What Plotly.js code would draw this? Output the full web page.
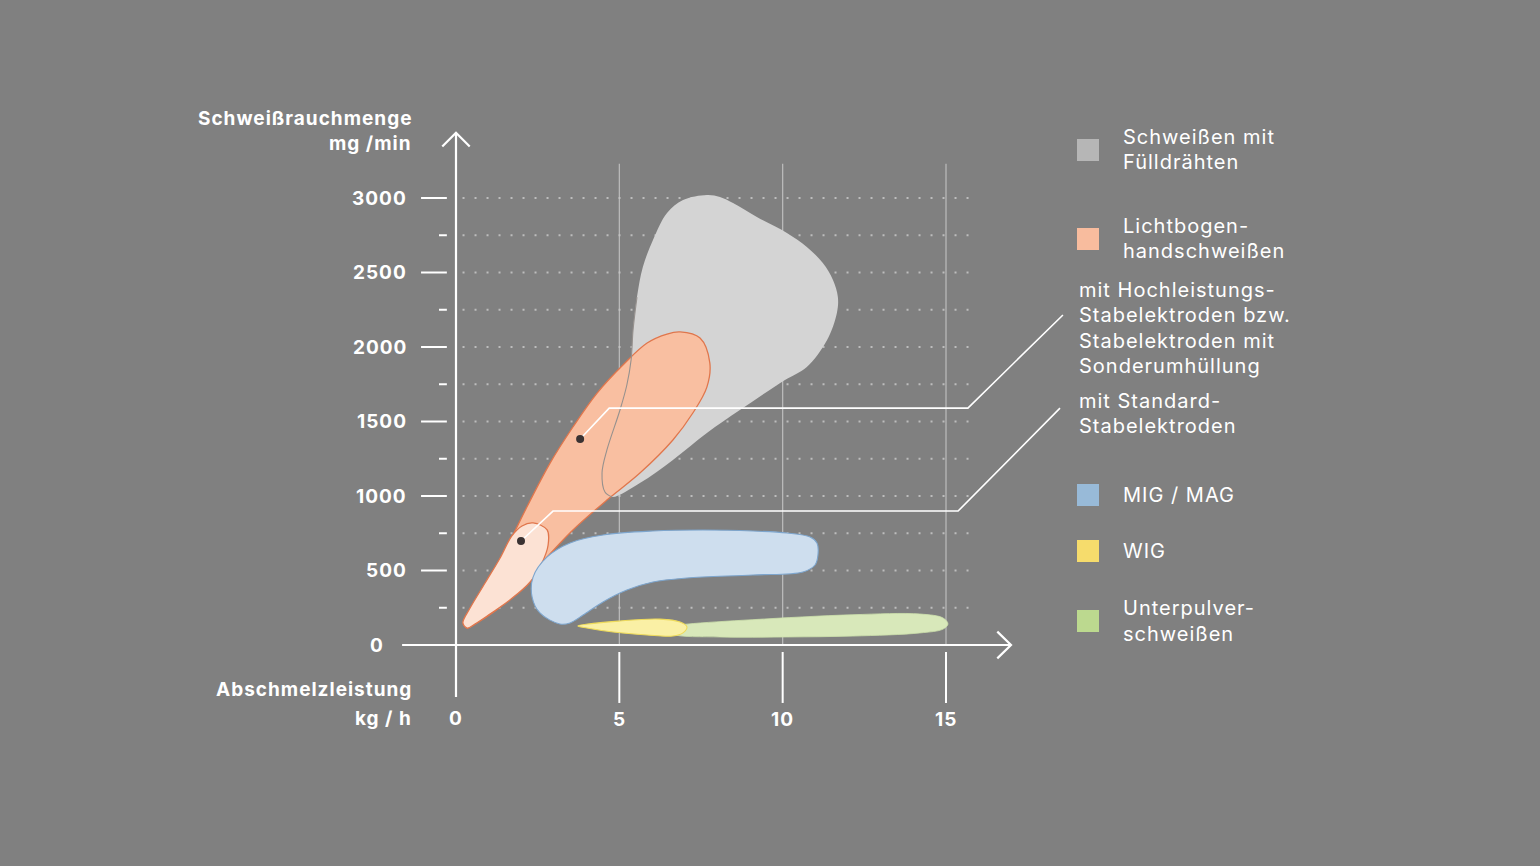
<!DOCTYPE html>
<html>
<head>
<meta charset="utf-8">
<script src="https://cdn.plot.ly/plotly-3.0.1.min.js"></script>
<style>
html,body{margin:0;padding:0;background:#808080;}
#chart{width:1540px;height:866px;}
.annotation-text{letter-spacing:1px;}
</style>
</head>
<body>
<div id="chart"></div>
<script>
// ---- axis values ----
const xTickVals = [0, 5, 10, 15];
const xTickLabels = ['0', '5', '10', '15'];
const yMajorVals = [500, 1000, 1500, 2000, 2500, 3000];
const yMajorLabels = ['500', '1000', '1500', '2000', '2500', '3000'];
const yMinorVals = [250, 750, 1250, 1750, 2250, 2750];
const gridYVals = [250, 500, 750, 1000, 1250, 1500, 1750, 2000, 2250, 2500, 2750, 3000];
const gridXVals = [5, 10, 15];

// ---- regions (x: kg/h, y: mg/min) ----
const fuellX = [7.68, 6.95, 6.46, 6.03, 5.72, 5.54, 5.42, 5.36, 5.23, 5.02, 4.62, 4.47, 4.56, 4.78, 5.63, 6.64, 7.68, 8.69, 10.07, 10.74, 11.36, 11.66, 11.69, 11.54, 11.23, 10.74, 10.13, 9.21, 8.48, 8.08];
const fuellY = [3020, 2986, 2899, 2718, 2537, 2335, 2114, 1913, 1745, 1577, 1309, 1154, 1027, 993, 1087, 1242, 1423, 1577, 1778, 1866, 2047, 2228, 2335, 2450, 2564, 2671, 2765, 2872, 2966, 3007];
// part of the Fülldraht border that shows through the Lichtbogen area
const fuellEdgeX = [5.54, 5.42, 5.36, 5.23, 5.02, 4.62, 4.47, 4.56, 4.78];
const fuellEdgeY = [2335, 2114, 1913, 1745, 1577, 1309, 1154, 1027, 993];

const hochX = [6.86, 7.47, 7.77, 7.68, 7.25, 6.64, 5.63, 4.62, 3.58, 2.79, 2.05, 1.35, 0.64, 0.34, 0.24, 0.43, 0.95, 1.56, 2.17, 2.88, 3.58, 4.32, 5.11, 5.85, 6.46];
const hochY = [2101, 2060, 1893, 1731, 1557, 1376, 1154, 973, 772, 591, 416, 255, 148, 114, 148, 235, 416, 658, 926, 1221, 1463, 1691, 1879, 2027, 2087];

const standardX = [2.36, 2.79, 2.82, 2.63, 2.27, 1.65, 1.04, 0.58, 0.34, 0.21, 0.43, 0.89, 1.35, 1.71, 2.02];
const standardY = [819, 772, 671, 550, 423, 302, 208, 141, 114, 148, 248, 416, 584, 732, 799];

const migX = [3.18, 2.57, 2.33, 2.36, 2.79, 3.49, 4.50, 6.03, 7.56, 9.09, 10.13, 10.84, 11.05, 11.08, 10.99, 10.62, 9.09, 7.07, 6.03, 5.23, 4.50, 3.89, 3.49];
const migY = [141, 215, 322, 456, 591, 685, 738, 765, 772, 765, 752, 725, 685, 604, 537, 490, 470, 450, 423, 369, 289, 201, 148];

const wigX = [3.73, 5.02, 6.24, 6.86, 7.07, 6.95, 6.64, 5.85, 4.81, 4.01];
const wigY = [128, 161, 174, 154, 121, 81, 60, 67, 87, 114];

const upX = [6.40, 7.07, 9.09, 12.15, 14.20, 14.91, 15.06, 14.91, 14.20, 12.15, 10.13, 8.08, 6.60];
const upY = [120, 140, 170, 203, 208, 181, 141, 107, 81, 60, 54, 54, 75];

// reference points of the two electrode variants
const dotX = [3.80, 1.99];
const dotY = [1383, 698];

// callout leader lines
const call1X = [3.80, 4.69, 15.67, 18.58];
const call1Y = [1383, 1590, 1590, 2215];
const call2X = [1.99, 2.97, 15.37, 18.49];
const call2Y = [698, 899, 899, 1590];

const legendLabels = [
  ['Schweißen mit', 'Fülldrähten'],
  ['Lichtbogen-', 'handschweißen'],
  ['MIG / MAG'],
  ['WIG'],
  ['Unterpulver-', 'schweißen']
];
const legendColors = ['#b6b6b6', '#f8bc9e', '#98bad8', '#f6dc6c', '#bcd98f'];
const subLabels = [
  ['mit Hochleistungs-', 'Stabelektroden bzw.', 'Stabelektroden mit', 'Sonderumhüllung'],
  ['mit Standard-', 'Stabelektroden']
];
const axisTitleY = ['Schweißrauchmenge', 'mg /min'];
const axisTitleX = ['Abschmelzleistung', 'kg / h'];
const originLabel = '0';

// ---- helpers ----
const close = a => a.concat([a[0]]);
const FONT = 'Inter, "Noto Sans", sans-serif';
const WHITE = '#ffffff';
// page-pixel to paper coords (plot area: x 380..1080, y 110..760)
const PX = p => (p - 380) / 700;
const PY = p => (760 - p) / 650;

function blob(x, y, fill, line, lw) {
  return {
    type: 'scatter', mode: 'lines', x: close(x), y: close(y),
    fill: 'toself', fillcolor: fill,
    line: {shape: 'spline', smoothing: 1, color: line, width: lw},
    hoverinfo: 'skip', showlegend: false
  };
}

const traces = [
  blob(fuellX, fuellY, 'rgb(212,212,212)', 'rgba(0,0,0,0)', 0),
  blob(hochX, hochY, 'rgb(249,191,161)', '#e0764c', 1.3),
  {
    type: 'scatter', mode: 'lines', x: fuellEdgeX, y: fuellEdgeY,
    line: {shape: 'spline', smoothing: 1, color: 'rgb(150,145,142)', width: 1.1},
    hoverinfo: 'skip', showlegend: false
  },
  blob(standardX, standardY, 'rgb(252,226,212)', '#e0764c', 1.3),
  blob(migX, migY, 'rgb(206,222,238)', 'rgb(125,165,205)', 1.1),
  blob(upX, upY, 'rgb(216,232,186)', 'rgb(205,225,172)', 0.8),
  blob(wigX, wigY, 'rgb(250,240,165)', 'rgb(238,218,90)', 1.1),
  {
    type: 'scatter', mode: 'lines', x: call1X, y: call1Y,
    line: {color: WHITE, width: 1.6}, hoverinfo: 'skip', showlegend: false
  },
  {
    type: 'scatter', mode: 'lines', x: call2X, y: call2Y,
    line: {color: WHITE, width: 1.6}, hoverinfo: 'skip', showlegend: false
  },
  {
    type: 'scatter', mode: 'markers', x: dotX, y: dotY,
    marker: {size: 8, color: '#3a3232'}, hoverinfo: 'skip', showlegend: false
  }
];

const shapes = [];
const annotations = [];

// dotted horizontal grid
gridYVals.forEach(v => shapes.push({
  type: 'line', xref: 'x', yref: 'y', x0: 0.2, x1: 15.9, y0: v, y1: v,
  line: {color: 'rgba(200,200,200,0.85)', width: 2, dash: '2px,10px'}, layer: 'below'
}));
// vertical grid
gridXVals.forEach(v => shapes.push({
  type: 'line', xref: 'x', yref: 'y', x0: v, x1: v, y0: 0, y1: 3230,
  line: {color: 'rgba(195,195,195,0.9)', width: 1.2}, layer: 'below'
}));
// axes
shapes.push({type: 'line', xref: 'x', yref: 'y', x0: 0, x1: 0, y0: -349, y1: 3436, line: {color: WHITE, width: 2.2}});
shapes.push({type: 'line', xref: 'x', yref: 'y', x0: -1.65, x1: 16.99, y0: 0, y1: 0, line: {color: WHITE, width: 2.2}});
shapes.push({type: 'path', xref: 'x', yref: 'y', path: 'M -0.42,3345 L 0,3438 L 0.42,3345', line: {color: WHITE, width: 2.2}});
shapes.push({type: 'path', xref: 'x', yref: 'y', path: 'M 16.57,90 L 16.99,0 L 16.57,-90', line: {color: WHITE, width: 2.2}});
// y ticks
yMajorVals.forEach(v => shapes.push({type: 'line', xref: 'x', yref: 'y', x0: -1.07, x1: -0.28, y0: v, y1: v, line: {color: WHITE, width: 2}}));
yMinorVals.forEach(v => shapes.push({type: 'line', xref: 'x', yref: 'y', x0: -0.52, x1: -0.28, y0: v, y1: v, line: {color: WHITE, width: 2}}));
// x ticks
xTickVals.filter(v => v > 0).forEach(v => shapes.push({type: 'line', xref: 'x', yref: 'y', x0: v, x1: v, y0: -47, y1: -389, line: {color: WHITE, width: 2}}));

const tickFont = {family: FONT, size: 19, color: WHITE, weight: 700};
yMajorLabels.forEach((t, i) => annotations.push({
  xref: 'x', yref: 'y', x: -1.44, y: yMajorVals[i], text: t, showarrow: false,
  xanchor: 'right', yanchor: 'middle', font: tickFont
}));
annotations.push({xref: 'paper', yref: 'paper', x: PX(377), y: PY(645), text: originLabel, showarrow: false, xanchor: 'center', yanchor: 'middle', font: tickFont});
xTickLabels.forEach((t, i) => annotations.push({
  xref: 'x', yref: 'y', x: xTickVals[i], y: i === 0 ? -490 : -500, text: t, showarrow: false,
  xanchor: 'center', yanchor: 'middle', font: tickFont
}));

// axis titles
const titleFont = {family: FONT, size: 19, color: WHITE, weight: 700};
[118, 143].forEach((py, i) => annotations.push({
  xref: 'paper', yref: 'paper', x: PX(414), y: PY(py), text: axisTitleY[i], showarrow: false,
  xanchor: 'right', yanchor: 'middle', font: titleFont
}));
[689, 718].forEach((py, i) => annotations.push({
  xref: 'paper', yref: 'paper', x: PX(414), y: PY(py), text: axisTitleX[i], showarrow: false,
  xanchor: 'right', yanchor: 'middle', font: titleFont
}));

// legend
const legFont = {family: FONT, size: 20, color: WHITE, weight: 400};
const legSquareY = [150, 239, 495, 551, 621];
const legTextY = [[137, 162], [226, 251], [495], [551], [608, 634]];
legendColors.forEach((c, i) => {
  const cy = legSquareY[i];
  shapes.push({type: 'rect', xref: 'paper', yref: 'paper', x0: PX(1077), x1: PX(1099), y0: PY(cy + 11), y1: PY(cy - 11), fillcolor: c, line: {width: 0}});
  legendLabels[i].forEach((t, j) => annotations.push({
    xref: 'paper', yref: 'paper', x: PX(1121), y: PY(legTextY[i][j]), text: t, showarrow: false,
    xanchor: 'left', yanchor: 'middle', font: legFont
  }));
});
const subTextY = [[290, 315, 341, 366], [401, 426]];
subLabels.forEach((lines, i) => lines.forEach((t, j) => annotations.push({
  xref: 'paper', yref: 'paper', x: PX(1077), y: PY(subTextY[i][j]), text: t, showarrow: false,
  xanchor: 'left', yanchor: 'middle', font: legFont
})));

const layout = {
  width: 1540, height: 866,
  margin: {l: 380, r: 460, t: 110, b: 106},
  paper_bgcolor: '#808080', plot_bgcolor: '#808080',
  showlegend: false, hovermode: false,
  xaxis: {range: [-2.3265, 19.102], visible: false, fixedrange: true},
  yaxis: {range: [-771.8, 3590.6], visible: false, fixedrange: true},
  shapes: shapes, annotations: annotations
};

Plotly.newPlot('chart', traces, layout, {staticPlot: true, displayModeBar: false});
</script>
</body>
</html>
